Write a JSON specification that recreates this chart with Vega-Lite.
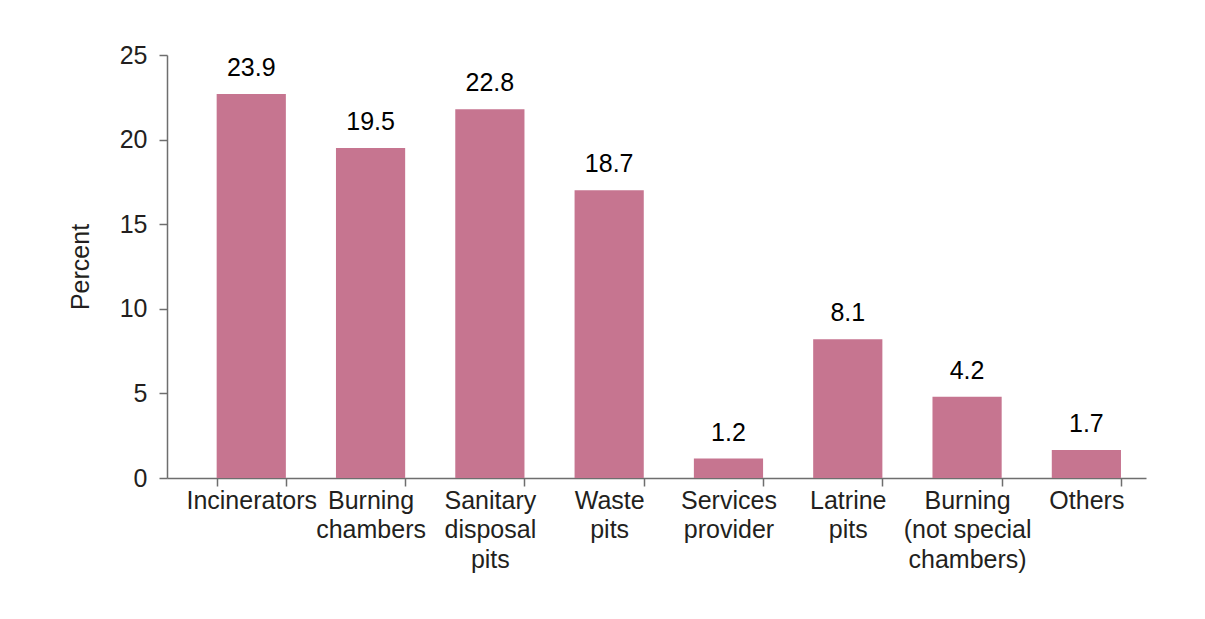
{
  "$schema": "https://vega.github.io/schema/vega-lite/v6.json",
  "width": 979,
  "height": 423,
  "autosize": {"type": "none"},
  "padding": {"left": 167, "top": 55, "right": 59, "bottom": 141},
  "background": "white",
  "config": {
    "font": "Liberation Sans",
    "view": {"stroke": null}
  },
  "data": {
    "values": [
      {"category": "Incinerators", "value": 22.7, "label": "23.9"},
      {"category": "Burning chambers", "value": 19.5, "label": "19.5"},
      {"category": "Sanitary disposal pits", "value": 21.8, "label": "22.8"},
      {"category": "Waste pits", "value": 17.0, "label": "18.7"},
      {"category": "Services provider", "value": 1.15, "label": "1.2"},
      {"category": "Latrine pits", "value": 8.2, "label": "8.1"},
      {"category": "Burning (not special chambers)", "value": 4.8, "label": "4.2"},
      {"category": "Others", "value": 1.65, "label": "1.7"}
    ]
  },
  "encoding": {
    "x": {
      "field": "category",
      "type": "nominal",
      "sort": null,
      "scale": {"paddingInner": 0.42, "paddingOuter": 0.313, "align": 0.665},
      "axis": {
        "title": null,
        "labelAngle": 0,
        "labelFontSize": 25,
        "labelColor": "#231f20",
        "labelFont": "Liberation Sans",
        "labelLineHeight": 29.5,
        "labelPadding": 2,
        "labelBaseline": "top",
        "labelLimit": 300,
        "labelExpr": "datum.label == 'Burning (not special chambers)' ? ['Burning', '(not special', 'chambers)'] : split(datum.label, ' ')",
        "tickBand": "extent",
        "tickSize": 8,
        "tickColor": "#6e6e6e",
        "tickWidth": 1.5,
        "domainColor": "#6e6e6e",
        "domainWidth": 1.5
      }
    },
    "y": {
      "field": "value",
      "type": "quantitative",
      "scale": {"domain": [0, 25], "nice": false},
      "axis": {
        "title": "Percent",
        "titleFontSize": 25,
        "titleFontWeight": "normal",
        "titleColor": "#231f20",
        "titleFont": "Liberation Sans",
        "titlePadding": 26,
        "values": [0, 5, 10, 15, 20, 25],
        "grid": false,
        "labelFontSize": 25,
        "labelColor": "#231f20",
        "labelFont": "Liberation Sans",
        "labelPadding": 12,
        "tickSize": 8,
        "tickColor": "#6e6e6e",
        "tickWidth": 1.5,
        "domainColor": "#6e6e6e",
        "domainWidth": 1.5
      }
    }
  },
  "layer": [
    {"mark": {"type": "bar", "color": "#c67590"}},
    {
      "mark": {"type": "text", "baseline": "alphabetic", "dy": -18, "fontSize": 25, "color": "#000000", "font": "Liberation Sans"},
      "encoding": {"text": {"field": "label", "type": "nominal"}}
    }
  ]
}
